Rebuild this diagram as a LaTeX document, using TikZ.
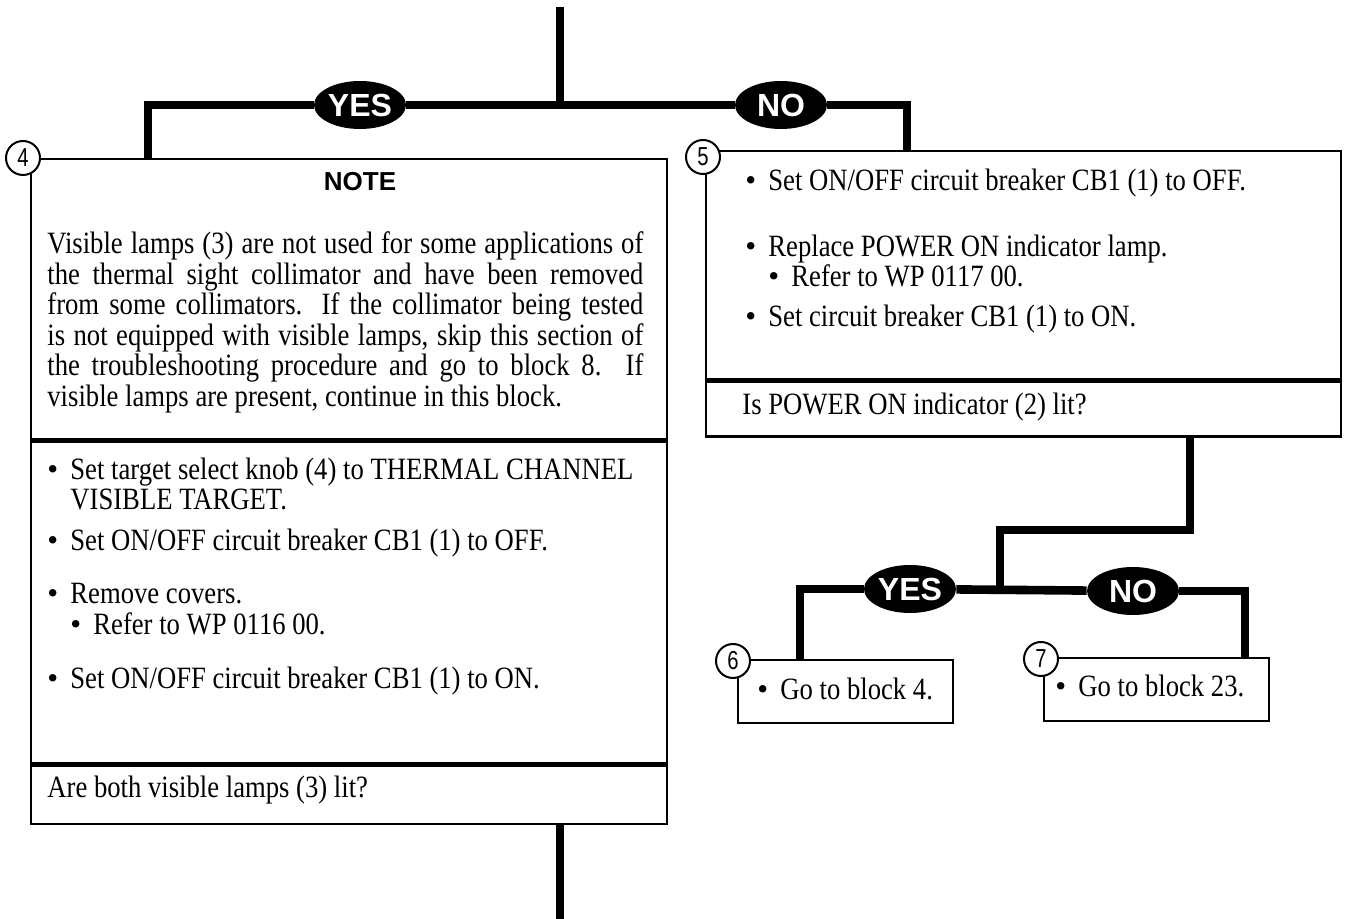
\documentclass[tikz,border=0pt]{standalone}
\usepackage{fontspec}
\setmainfont[FakeStretch=0.86]{Liberation Serif}
\newfontfamily\bulfont{Liberation Serif}
\newfontfamily\labelfont{Liberation Sans}
\newfontfamily\numfont[FakeStretch=0.78]{Liberation Sans}
\usetikzlibrary{positioning,shapes.geometric,calc}

\newcommand{\stepfont}{\fontsize{15.5pt}{15.25pt}\selectfont}
\newcommand{\bul}{\makebox[11.5pt][l]{\bulfont\textbullet}}
\newcommand{\subbul}{\hspace*{11.5pt}\bul}

\tikzset{
  flow/.style={line width=4.3pt},
  blockpart/.style={draw,line width=1.2pt,fill=white,inner sep=0pt,anchor=north west},
  blocknum/.style={draw,circle,line width=1pt,fill=white,inner sep=0pt,minimum size=17pt,
    font=\numfont\fontsize{13pt}{13pt}\selectfont},
  answer/.style={ellipse,fill=black,text=white,inner sep=0pt,minimum width=46pt,
    minimum height=24pt,font=\labelfont\bfseries\fontsize{16pt}{16pt}\selectfont},
  notehead/.style={inner sep=0pt,font=\labelfont\bfseries\fontsize{13pt}{13pt}\selectfont},
  steptext/.style={anchor=base west,inner sep=0pt,align=left,font=\stepfont},
}

\begin{document}
\begin{tikzpicture}[x=0.5pt,y=-0.5pt]
  \useasboundingbox (0,0) rectangle (1345,919);

  % block 4
  \node[blockpart,minimum width=318pt,minimum height=140pt] (note4) at (30,158) {};
  \node[blockpart,minimum width=318pt,minimum height=161pt] (steps4) at (note4.south west) {};
  \node[blockpart,minimum width=318pt,minimum height=29pt] (ask4) at (steps4.south west) {};
  \node[blocknum] (num4) at (23,158) {4};
  \node[notehead] (notetitle) at (360,182) {NOTE};
  \node[steptext,text width=298pt,align=justify] (notebody) at (47,254)
    {\hyphenpenalty=10000 Visible lamps (3) are not used for some applications of\linebreak
     the thermal sight collimator and have been removed\linebreak
     from some collimators. If the collimator being tested\linebreak
     is not equipped with visible lamps, skip this section of\linebreak
     the troubleshooting procedure and go to block 8. If\linebreak
     visible lamps are present, continue in this block.};
  \node[steptext] (s4a) at (47,510)
    {\bul Set target select knob (4) to THERMAL CHANNEL\\\hspace*{11.5pt}VISIBLE TARGET.};
  \node[steptext] (s4b) at (47,551) {\bul Set ON/OFF circuit breaker CB1 (1) to OFF.};
  \node[steptext] (s4c) at (47,634) {\bul Remove covers.\\\subbul Refer to WP 0116 00.};
  \node[steptext] (s4d) at (47,689) {\bul Set ON/OFF circuit breaker CB1 (1) to ON.};
  \node[steptext] (q4) at (47,797) {Are both visible lamps (3) lit?};

  % block 5
  \node[blockpart,minimum width=317.5pt,minimum height=114pt] (steps5) at (705,150) {};
  \node[blockpart,minimum width=317.5pt,minimum height=27.5pt] (ask5) at (steps5.south west) {};
  \node[blocknum] (num5) at (703,157) {5};
  \node[steptext] (s5a) at (745,191) {\bul Set ON/OFF circuit breaker CB1 (1) to OFF.};
  \node[steptext] (s5b) at (745,287) {\bul Replace POWER ON indicator lamp.\\\subbul Refer to WP 0117 00.};
  \node[steptext] (s5c) at (745,327) {\bul Set circuit breaker CB1 (1) to ON.};
  \node[steptext] (q5) at (742,415) {Is POWER ON indicator (2) lit?};

  % blocks 6 and 7
  \node[blockpart,minimum width=107.5pt,minimum height=31.5pt] (steps6) at (737,659) {};
  \node[blocknum] (num6) at (733,661) {6};
  \node[steptext] (s6a) at (757,699) {\bul Go to block 4.};
  \node[blockpart,minimum width=112.5pt,minimum height=31.5pt] (steps7) at (1043,657) {};
  \node[blocknum] (num7) at (1041,659) {7};
  \node[steptext] (s7a) at (1055,697) {\bul Go to block 23.};

  % answers
  \node[answer] (yes4) at (360,105) {YES};
  \node[answer] (no5) at (781,105) {NO};
  \node[answer] (yes6) at (910,589) {YES};
  \node[answer] (no7) at (1133,591) {NO};

  % flow lines
  \coordinate (top) at (560,7);
  \coordinate (split1) at (560,105);
  \coordinate (j4) at (148,105);
  \coordinate (j5) at (907,105);
  \draw[flow] (top) -- (split1);
  \draw[flow] (j4 |- note4.north) |- (yes4);
  \draw[flow] (yes4) -- (no5);
  \draw[flow] (no5) -| (j5 |- steps5.north);

  \coordinate (k1) at (1190,530);
  \coordinate (k2) at (1000,530);
  \coordinate (split2) at (1000,590);
  \coordinate (j6) at (800,590);
  \coordinate (j7) at (1245,590);
  \draw[flow] (ask5.south -| k1) -- (k1) -- (k2) -- (split2);
  \draw[flow] (j6 |- steps6.north) |- (yes6.west);
  \draw[flow] (yes6) -- (no7);
  \draw[flow] (no7.east) -| (j7 |- steps7.north);

  \coordinate (bottom) at (560,919);
  \draw[flow] (ask4.south -| bottom) -- (bottom);
\end{tikzpicture}
\end{document}
